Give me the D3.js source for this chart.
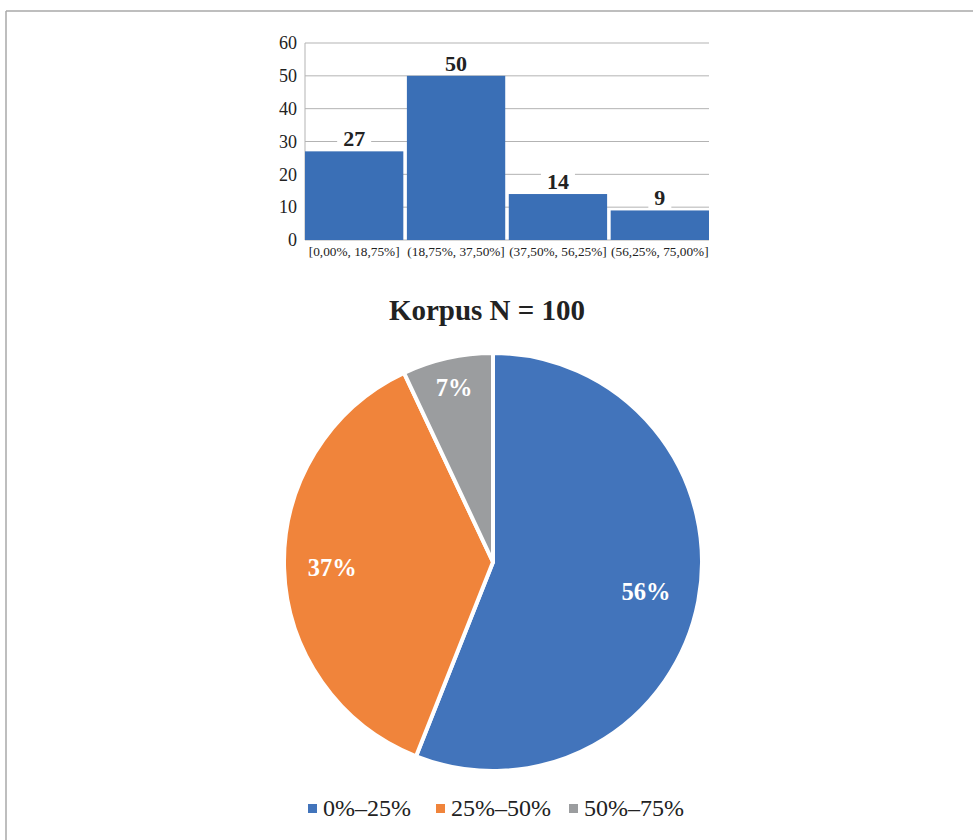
<!DOCTYPE html>
<html>
<head>
<meta charset="utf-8">
<script src="https://cdn.jsdelivr.net/npm/d3@7"></script>
<style>
  html, body { margin: 0; padding: 0; background: #fff; }
  svg { display: block; font-family: "Liberation Serif", "Times New Roman", serif; }
</style>
</head>
<body>
<svg id="chart" width="973" height="840"></svg>
<script>
// Histogram: share of items per bin
const binLabels = ["[0,00%, 18,75%]", "(18,75%, 37,50%]", "(37,50%, 56,25%]", "(56,25%, 75,00%]"];
const binCounts = [27, 50, 14, 9];
const yTicks = [0, 10, 20, 30, 40, 50, 60];

// Pie: corpus breakdown
const pieTitle = "Korpus N = 100";
const pieCategories = ["0%–25%", "25%–50%", "50%–75%"];
const pieValues = [56, 37, 7];
const pieColors = ["#4274bb", "#f0843b", "#9b9d9f"];

const svg = d3.select("#chart");
const serif = "Liberation Serif, Times New Roman, serif";

// outer frame (top and left edges)
svg.append("line").attr("x1", 6).attr("x2", 973).attr("y1", 11).attr("y2", 11)
  .attr("stroke", "#a8a8a8").attr("stroke-width", 1.5);
svg.append("line").attr("x1", 6).attr("x2", 6).attr("y1", 11).attr("y2", 840)
  .attr("stroke", "#a8a8a8").attr("stroke-width", 1.5);

// ---- histogram ----
const bx = d3.scaleBand().domain(binLabels).range([305, 709]).paddingInner(0.035).paddingOuter(0);
const by = d3.scaleLinear().domain([0, 60]).range([240, 43]);

const bar = svg.append("g");
bar.selectAll("line.grid").data(yTicks).join("line")
  .attr("class", "grid")
  .attr("x1", 305).attr("x2", 709)
  .attr("y1", d => by(d)).attr("y2", d => by(d))
  .attr("stroke", "#b3b3b3").attr("stroke-width", 1);
bar.append("line").attr("x1", 305).attr("x2", 305).attr("y1", 43).attr("y2", 240)
  .attr("stroke", "#b3b3b3").attr("stroke-width", 1);

const yAxis = d3.axisLeft(by).tickValues(yTicks).tickSize(0).tickPadding(8);
bar.append("g").attr("transform", "translate(305,0)").call(yAxis)
  .call(g => g.select(".domain").remove())
  .call(g => g.selectAll("text").attr("font-size", 18).attr("fill", "#222")
    .attr("font-family", serif));

bar.selectAll("rect.bar").data(binCounts).join("rect")
  .attr("class", "bar")
  .attr("x", (d, i) => bx(binLabels[i]))
  .attr("width", bx.bandwidth())
  .attr("y", d => by(d))
  .attr("height", d => by(0) - by(d))
  .attr("fill", "#3a6fb6");

const xAxis = d3.axisBottom(bx).tickSize(0).tickPadding(7);
bar.append("g").attr("transform", "translate(0,240)").call(xAxis)
  .call(g => g.select(".domain").remove())
  .call(g => g.selectAll("text").attr("font-size", 13.3).attr("fill", "#222")
    .attr("font-family", serif));

// value labels with white backing so gridlines break around them
const vl = bar.selectAll("g.vl").data(binCounts).join("g").attr("class", "vl")
  .attr("transform", (d, i) => `translate(${bx(binLabels[i]) + bx.bandwidth() / 2},${by(d) - 13})`);
vl.append("rect")
  .attr("x", d => -(String(d).length * 11 + 12) / 2)
  .attr("width", d => String(d).length * 11 + 12)
  .attr("y", -11).attr("height", 22).attr("fill", "#fff");
vl.append("text").text(d => d)
  .attr("text-anchor", "middle").attr("dy", "0.35em")
  .attr("font-size", 22).attr("font-weight", "bold").attr("fill", "#222");

// ---- pie ----
svg.append("text").text(pieTitle)
  .attr("x", 487).attr("y", 320).attr("text-anchor", "middle")
  .attr("font-size", 29).attr("font-weight", "bold").attr("fill", "#222");

const cx = 493, cy = 562, r = 209;
const pie = d3.pie().sort(null).value(d => d)(pieValues);
const arc = d3.arc().innerRadius(0).outerRadius(r);
const pg = svg.append("g").attr("transform", `translate(${cx},${cy})`);
pg.selectAll("path").data(pie).join("path")
  .attr("d", arc)
  .attr("fill", (d, i) => pieColors[i])
  .attr("stroke", "#fff").attr("stroke-width", 4).attr("stroke-linejoin", "round");

const labelRadius = [1.49, 1.54, 1.71];
pg.selectAll("text").data(pie).join("text")
  .attr("transform", (d, i) => {
    const c = d3.arc().innerRadius(0).outerRadius(r * labelRadius[i]).centroid(d);
    return `translate(${c})`;
  })
  .attr("text-anchor", "middle").attr("dy", "0.35em")
  .attr("font-size", 24.5).attr("font-weight", "bold").attr("fill", "#fff")
  .text(d => d.data + "%");

// ---- legend ----
const legendX = [308, 436, 569];
const lg = svg.append("g").selectAll("g").data(pieCategories).join("g")
  .attr("transform", (d, i) => `translate(${legendX[i]},808)`);
lg.append("rect").attr("x", 0).attr("y", -4).attr("width", 9).attr("height", 9)
  .attr("fill", (d, i) => pieColors[i]);
lg.append("text").text(d => d).attr("x", 15).attr("dy", "0.35em")
  .attr("font-size", 24).attr("fill", "#222");
</script>
</body>
</html>
